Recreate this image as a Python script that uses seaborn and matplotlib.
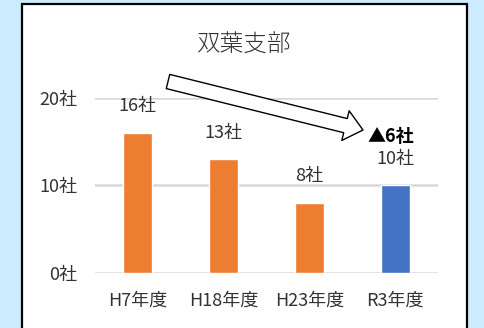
import matplotlib
matplotlib.use("Agg")
import matplotlib.pyplot as plt
import seaborn as sns
from matplotlib.patches import Rectangle

categories = ["H7年度", "H18年度", "H23年度", "R3年度"]
values = [16, 13, 8, 10]
colors = ["#ED7D31", "#ED7D31", "#ED7D31", "#4472C4"]
title = "双葉支部"
change_label = "▲6社"
yticks = [0, 10, 20]

sns.set_theme(style="white")
plt.rcParams['font.family'] = ['Noto Sans CJK JP', 'DejaVu Sans']

W, H = 484, 328
fig = plt.figure(figsize=(W / 100, H / 100), dpi=100)
fig.patch.set_facecolor("#CDEBFF")

# white panel with black border
fig.patches.append(Rectangle((22 / W, -0.05), (467 - 22) / W, (H - 4) / H + 0.05,
                             transform=fig.transFigure, facecolor="white",
                             edgecolor="black", linewidth=1.6, zorder=-10))

ax = fig.add_axes([95 / W, (H - 272.7) / H, 343 / W, 175 / H])
ax.set_facecolor("none")
sns.barplot(x=categories, y=values, hue=categories, palette=colors, legend=False,
            width=0.34, ax=ax, zorder=3, saturation=1)
ax.set_xlim(-0.5, 3.5)
ax.set_ylim(0, 20)
ax.set_yticks(yticks)
ax.set_yticklabels([f"{v}社" for v in yticks])
for s in ax.spines.values():
    s.set_visible(False)
ax.grid(axis="y", color="#D9D9D9", linewidth=1.8, zorder=0)
ax.set_axisbelow(True)
ax.tick_params(axis="both", length=0, labelsize=13, colors="#333333")
ax.tick_params(axis="y", pad=13)
ax.tick_params(axis="x", pad=13.5)
ax.set_xlabel("")
ax.set_ylabel("")

for i, v in enumerate(values):
    ax.annotate(f"{v}社", (i, v), xytext=(0, 19), textcoords="offset points",
                ha="center", va="center", fontsize=13, color="#333333")

ax.annotate(change_label, (3, values[3]), xytext=(-3, 35), textcoords="offset points",
            ha="center", va="center", fontsize=13, fontweight="bold", color="black")

fig.text(244 / W, 1 - 45 / H, title, ha="center", va="center", fontsize=17,
         color="#333333", fontweight="light")

# hollow block arrow
ax.annotate("", xy=(363, H - 130), xycoords="figure pixels",
            xytext=(168, H - 81.5), textcoords="figure pixels",
            arrowprops=dict(arrowstyle="simple,head_length=13,head_width=22,tail_width=10.5",
                            mutation_scale=1, fc="white", ec="black", lw=1.0,
                            shrinkA=0, shrinkB=0))

fig.savefig("out.png", dpi=100, facecolor=fig.get_facecolor())
